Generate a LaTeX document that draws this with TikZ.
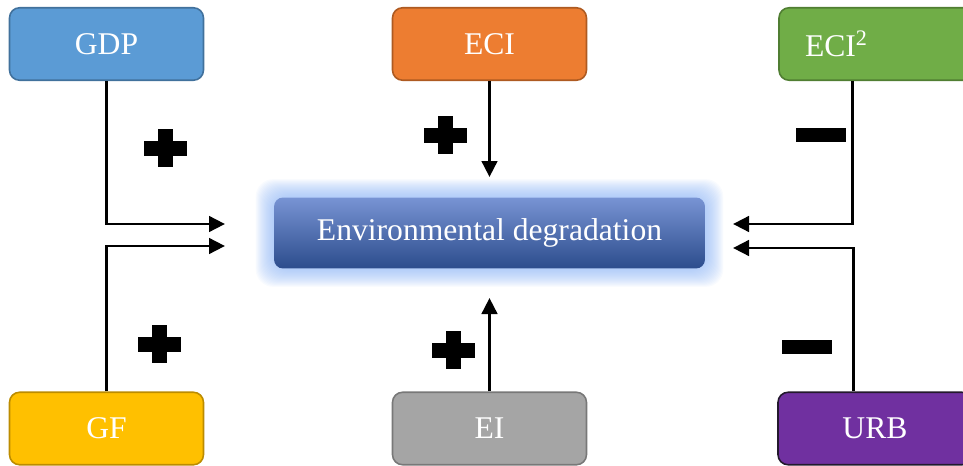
\documentclass[tikz,border=0pt]{standalone}
\usepackage{fontspec}
\setmainfont{Liberation Serif}
\usetikzlibrary{arrows.meta,backgrounds}

\definecolor{gdpfill}{RGB}{91,155,213}
\definecolor{gdpline}{RGB}{65,113,156}
\definecolor{ecifill}{RGB}{237,125,49}
\definecolor{eciline}{RGB}{174,90,33}
\definecolor{sqfill}{RGB}{112,173,71}
\definecolor{sqline}{RGB}{80,126,50}
\definecolor{gffill}{RGB}{255,192,0}
\definecolor{gfline}{RGB}{188,140,0}
\definecolor{eifill}{RGB}{165,165,165}
\definecolor{eiline}{RGB}{120,120,120}
\definecolor{urbfill}{RGB}{112,48,160}
\definecolor{urbline}{RGB}{35,25,45}
\definecolor{envtop}{RGB}{120,148,212}
\definecolor{envbottom}{RGB}{44,76,140}
\definecolor{glowblue}{RGB}{140,180,245}

\begin{document}
\begin{tikzpicture}[x=0.02cm, y=-0.02cm,
      factor/.style={draw, line width=0.9pt, rounded corners=0.2cm,
        minimum width=3.88cm, minimum height=1.45cm, text=white,
        font=\fontsize{18}{20}\selectfont},
      link/.style={draw, line width=1.7pt, -{Triangle[length=0.32cm, width=0.31cm]}},
      glow/.style={fill=glowblue, fill opacity=0.055, rounded corners=0.35cm},
      plusmark/.pic={\fill (-21.5,-7.5) rectangle (21.5,7.5);
        \fill (-7.5,-19) rectangle (7.5,19);},
      minusmark/.pic={\fill (-25,-7) rectangle (25,7);}]
    \useasboundingbox (0,0) rectangle (963,466);

    \node[factor, fill=gdpfill, draw=gdpline] (gdp) at (106.5,44) {GDP};
    \node[factor, fill=ecifill, draw=eciline] (eci) at (489.5,44) {ECI};
    \node[factor, fill=sqfill, draw=sqline, text width=2.84cm, inner xsep=0.52cm,
      align=left] (ecisq) at (876,44) {ECI\textsuperscript{2}};
    \node[factor, fill=gffill, draw=gfline] (gf) at (106.5,428.5) {GF};
    \node[factor, fill=eifill, draw=eiline] (ei) at (489.5,428.5) {EI};
    \node[factor, fill=urbfill, draw=urbline] (urb) at (875,428.5) {URB};

    \node[rounded corners=0.18cm, minimum width=8.62cm, minimum height=1.42cm,
      top color=envtop, bottom color=envbottom, text=white,
      font=\fontsize{18}{20}\selectfont] (env) at (489.5,233) {Environmental degradation};
    \begin{pgfonlayer}{background}
      \foreach \g in {1,...,18}
        \fill[glow] ([shift={(-\g,-\g)}]env.north west) rectangle ([shift={(\g,\g)}]env.south east);
    \end{pgfonlayer}

    \coordinate (gdpend) at (225,224);
    \coordinate (gfend) at (225,246);
    \coordinate (eciend) at (489.5,177);
    \coordinate (eiend) at (489.5,298);
    \coordinate (sqend) at (733,224);
    \coordinate (urbend) at (733,248);

    \draw[link] (gdp.south) |- (gdpend);
    \draw[link] (gf.north) |- (gfend);
    \draw[link] (eci.south) -- (eciend);
    \draw[link] (ei.north) -- (eiend);
    \draw[link] ([xshift=-0.48cm]ecisq.south) |- (sqend);
    \draw[link] ([xshift=-0.44cm]urb.north) |- (urbend);

    \pic at (165,148) {plusmark};
    \pic at (445,135) {plusmark};
    \pic at (159,344) {plusmark};
    \pic at (453,350) {plusmark};
    \pic at (821,135) {minusmark};
    \pic at (807,347) {minusmark};
\end{tikzpicture}
\end{document}
